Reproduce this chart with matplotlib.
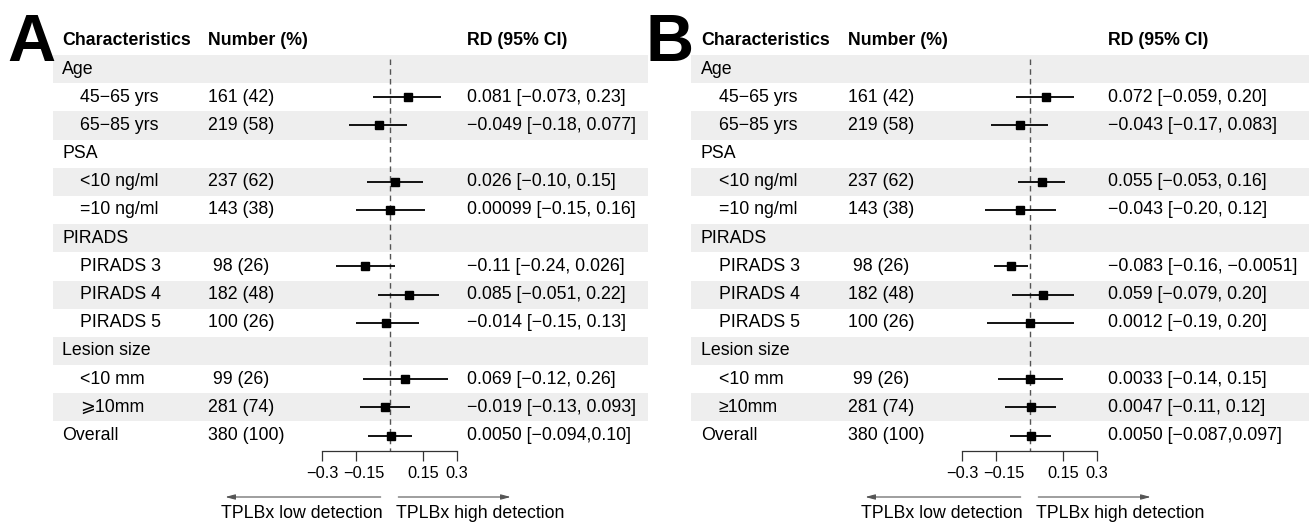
import numpy as np
import matplotlib.pyplot as plt
from matplotlib.transforms import ScaledTranslation

plt.rcParams['font.family'] = ['Liberation Sans', 'DejaVu Sans']
plt.rcParams['font.size'] = 12.8

# ---- data ----
labels_a = ["Age", "45\u221265 yrs", "65\u221285 yrs", "PSA", "<10 ng/ml", "=10 ng/ml",
            "PIRADS", "PIRADS 3", "PIRADS 4", "PIRADS 5", "Lesion size",
            "<10 mm", "\u2a7e10mm", "Overall"]
labels_b = labels_a[:12] + ["\u226510mm", "Overall"]
indent = [0, 1, 1, 0, 1, 1, 0, 1, 1, 1, 0, 1, 1, 0]
numbers = ["", "161 (42)", "219 (58)", "", "237 (62)", "143 (38)", "",
           " 98 (26)", "182 (48)", "100 (26)", "", " 99 (26)", "281 (74)", "380 (100)"]

nan = np.nan
est_a = [nan, 0.081, -0.049, nan, 0.026, 0.00099, nan, -0.11, 0.085, -0.014, nan, 0.069, -0.019, 0.0050]
lo_a = [nan, -0.073, -0.18, nan, -0.10, -0.15, nan, -0.24, -0.051, -0.15, nan, -0.12, -0.13, -0.094]
hi_a = [nan, 0.23, 0.077, nan, 0.15, 0.16, nan, 0.026, 0.22, 0.13, nan, 0.26, 0.093, 0.10]
rd_a = ["", "0.081 [\u22120.073, 0.23]", "\u22120.049 [\u22120.18, 0.077]", "",
        "0.026 [\u22120.10, 0.15]", "0.00099 [\u22120.15, 0.16]", "",
        "\u22120.11 [\u22120.24, 0.026]", "0.085 [\u22120.051, 0.22]", "\u22120.014 [\u22120.15, 0.13]", "",
        "0.069 [\u22120.12, 0.26]", "\u22120.019 [\u22120.13, 0.093]", "0.0050 [\u22120.094,0.10]"]

est_b = [nan, 0.072, -0.043, nan, 0.055, -0.043, nan, -0.083, 0.059, 0.0012, nan, 0.0033, 0.0047, 0.0050]
lo_b = [nan, -0.059, -0.17, nan, -0.053, -0.20, nan, -0.16, -0.079, -0.19, nan, -0.14, -0.11, -0.087]
hi_b = [nan, 0.20, 0.083, nan, 0.16, 0.12, nan, -0.0051, 0.20, 0.20, nan, 0.15, 0.12, 0.097]
rd_b = ["", "0.072 [\u22120.059, 0.20]", "\u22120.043 [\u22120.17, 0.083]", "",
        "0.055 [\u22120.053, 0.16]", "\u22120.043 [\u22120.20, 0.12]", "",
        "\u22120.083 [\u22120.16, \u22120.0051]", "0.059 [\u22120.079, 0.20]", "0.0012 [\u22120.19, 0.20]", "",
        "0.0033 [\u22120.14, 0.15]", "0.0047 [\u22120.11, 0.12]", "0.0050 [\u22120.087,0.097]"]

ticks = [-0.3, -0.15, 0.15, 0.3]
tick_labels = ["\u22120.3", "\u22120.15", "0.15", "0.3"]

# ---- layout (pixels) ----
W, H = 1310, 523
ROW0, ROWH = 69, 28.2
TOP = ROW0 - 1.5 * ROWH
AXIS_Y = 451
YBOT = (AXIS_Y - ROW0) / ROWH
SCALE = 224.0  # px per unit RD

fig = plt.figure(figsize=(W / 100, H / 100), dpi=100)


def rect(x0, x1):
    return [x0 / W, 1 - AXIS_Y / H, (x1 - x0) / W, (AXIS_Y - TOP) / H]


def panel(letter, x_letter, band_l, band_r, x_char, x_num, zero_px, x_rd,
          labels, est, lo, hi, rd):
    rows = np.arange(len(labels))

    tab = fig.add_axes(rect(band_l, band_r))
    tab.set_xlim(band_l, band_r)
    tab.set_ylim(YBOT, -1.5)
    tab.axis('off')
    for i in rows[::2]:
        tab.axhspan(i - 0.5, i + 0.5, color='#eeeeee', lw=0, zorder=0)

    tab.text(x_char, -1, "Characteristics", weight='bold', va='center')
    tab.text(x_num, -1, "Number (%)", weight='bold', va='center')
    tab.text(x_rd, -1, "RD (95% CI)", weight='bold', va='center')
    for i in rows:
        tab.text(x_char + 18 * indent[i], i, labels[i], va='center')
        tab.text(x_num, i, numbers[i], va='center')
        tab.text(x_rd, i, rd[i], va='center')

    # forest column
    l, r = zero_px - 80, zero_px + 80
    ax = fig.add_axes(rect(l, r))
    ax.patch.set_alpha(0)
    ax.set_xlim((l - zero_px) / SCALE, (r - zero_px) / SCALE)
    ax.set_ylim(YBOT, -1.5)
    for s in ['top', 'right', 'left']:
        ax.spines[s].set_visible(False)
    ax.spines['bottom'].set_bounds(-0.3, 0.3)
    ax.spines['bottom'].set_color('#333333')
    ax.spines['bottom'].set_linewidth(0.9)
    ax.set_yticks([])
    ax.set_xticks(ticks)
    ax.set_xticklabels(tick_labels)
    ax.tick_params(axis='x', direction='out', length=7, width=0.9, color='#333333',
                   pad=4, labelsize=11.8)
    # nudge the crowded -0.15 label right, as in the original
    lab = ax.get_xticklabels()[1]
    lab.set_transform(lab.get_transform() + ScaledTranslation(0.08, 0, fig.dpi_scale_trans))
    ax.plot([0, 0], [-0.35, YBOT], color='#555555', lw=1, ls=(0, (4, 3)), zorder=1)
    ax.hlines(rows, lo, hi, color='black', lw=1.3, zorder=2)
    ax.plot(est, rows, 's', color='black', ms=6, zorder=3)

    # direction arrows
    ya = H - 497
    style = '-|>,head_length=0.45,head_width=0.12'
    fig.add_artist(plt.Annotation("", xy=(zero_px - 167, ya), xytext=(zero_px - 6, ya),
                                  xycoords='figure pixels', textcoords='figure pixels',
                                  arrowprops=dict(arrowstyle=style, color='#555555', lw=0.8)))
    fig.add_artist(plt.Annotation("", xy=(zero_px + 124, ya), xytext=(zero_px + 6, ya),
                                  xycoords='figure pixels', textcoords='figure pixels',
                                  arrowprops=dict(arrowstyle=style, color='#555555', lw=0.8)))
    fig.text((zero_px - 7) / W, 1 - 513 / H, "TPLBx low detection", ha='right', va='center')
    fig.text((zero_px + 7) / W, 1 - 513 / H, "TPLBx high detection", ha='left', va='center')

    fig.text(x_letter / W, 1 - 13 / H, letter, fontsize=48, weight='bold', va='top', ha='left')


panel("A", 7, 53, 648, 62, 208, 389.5, 467, labels_a, est_a, lo_a, hi_a, rd_a)
panel("B", 646, 691, 1309, 701, 848, 1029.5, 1108, labels_b, est_b, lo_b, hi_b, rd_b)

fig.savefig("out.png", dpi=100)
